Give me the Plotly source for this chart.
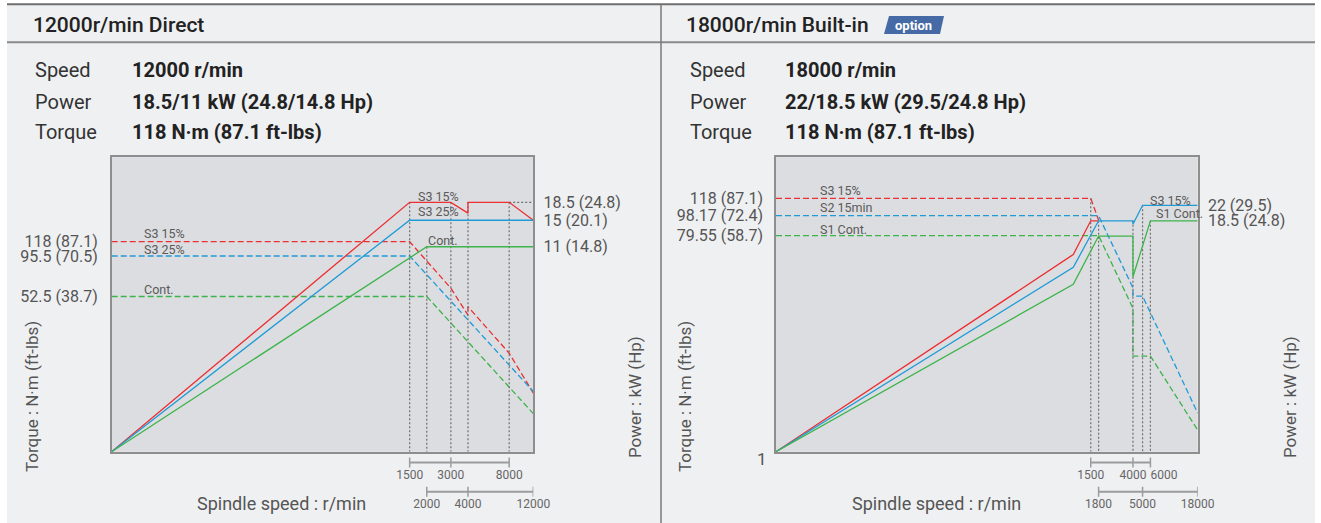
import math
import plotly.graph_objects as go

W, H = 1321, 523          # browser window
OX, OY = 0, 0             # page margin is removed by the post script
FW, FH = W - OX, H - OY
FONT = "Roboto"

# ------------------------------------------------------------------ data
# 12000 r/min Direct  (speed r/min, power kW, torque N·m)
L_S315_SPEED = [10, 1500, 3000, 4000, 4000, 8000, 12000]
L_S315_POWER = [1, 18.5, 18.5, 16.3, 18.5, 18.5, 15]
L_S325_SPEED = [10, 1500, 12000]
L_S325_POWER = [1, 15, 15]
L_CONT_SPEED = [10, 2000, 12000]
L_CONT_POWER = [1, 11, 11]
L_S315_TQ_SPEED = [10, 1500, 3000, 4000, 4000, 8000, 12000]
L_S315_TORQUE = [118, 118, 59.3, 39.9, 45.2, 22.7, 12.6]
L_S325_TQ_SPEED = [10, 1500, 12000]
L_S325_TORQUE = [95.5, 95.5, 12.9]
L_CONT_TQ_SPEED = [10, 2000, 12000]
L_CONT_TORQUE = [52.5, 52.5, 9.3]
L_GUIDE_SPEED = [1500, 2000, 3000, 4000, 8000]
L_GUIDE_POWER = [18.5, 11, 18.5, 18.5, 18.5]
L_HGUIDE_SPEED = [8000, 12000]
L_HGUIDE_POWER = [18.5, 18.5]
L_TORQUE_TICKS = [118, 95.5, 52.5]
L_TORQUE_LABELS = ["118 (87.1)", "95.5 (70.5)", "52.5 (38.7)"]
L_POWER_TICKS = [18.5, 15, 11]
L_POWER_LABELS = ["18.5 (24.8)", "15 (20.1)", "11 (14.8)"]
L_SPEED_ROW1 = [1500, 3000, 8000]
L_SPEED_ROW2 = [2000, 4000, 12000]

# 18000 r/min Built-in
R_S315_SPEED = [1, 1000, 1500, 1800]
R_S315_POWER = [1.4, 12.7, 18.5, 18.5]
R_S215_SPEED = [1, 1000, 1800, 4000, 4000, 5000, 18000]
R_S215_POWER = [1.4, 11.0, 18.5, 18.5, 17.8, 22, 22]
R_S1_SPEED = [1, 1000, 1800, 4000, 4000, 6000, 18000]
R_S1_POWER = [1.4, 9.1, 15.6, 15.6, 9.9, 18.5, 18.5]
R_S315_TQ_SPEED = [1, 1500, 1800]
R_S315_TORQUE = [118, 118, 93.8]
R_S215_TQ_SPEED = [1, 1800, 4000, 4000, 5000, 18000]
R_S215_TORQUE = [98.17, 98.17, 45.8, 42.0, 42.0, 12.2]
R_S1_TQ_SPEED = [1, 1800, 4000, 4000, 6000, 18000]
R_S1_TORQUE = [79.55, 79.55, 36.9, 22.3, 22.3, 10.2]
R_GUIDE_SPEED = [1800, 4000, 5000, 6000]
R_GUIDE_POWER = [18.5, 18.5, 22, 18.5]
R_TQ_GUIDE_SPEED = [1500]
R_TQ_GUIDE_TORQUE = [118]
R_TORQUE_TICKS = [118, 98.17, 79.55]
R_TORQUE_LABELS = ["118 (87.1)", "98.17 (72.4)", "79.55 (58.7)"]
R_POWER_TICKS = [22, 18.5]
R_POWER_LABELS = ["22 (29.5)", "18.5 (24.8)"]
R_SPEED_ROW1 = [1500, 4000, 6000]
R_SPEED_ROW2 = [1800, 5000, 18000]

# ------------------------------------------------------------------ style / layout constants
RED, BLUE, GREEN = "#ec2f33", "#1f9bd7", "#3cb44b"
TXT = "#555555"
GUIDE = "#6f6f6f"
BORDER = "#8e8e8e"
PLOT_BG = "#dcdde0"
PANEL_BG = "#eff0f2"
DASH = "6px,3px"
DOT = "2px,2px"

def px(x):
    return (x - OX) / FW

def py(y):
    return 1 - (y - OY) / FH

LEFT_X = [px(111.7), px(533.3)]
RIGHT_X = [px(776), px(1197.7)]
PLOT_Y = [py(451.7), py(157.3)]
BRACKET_Y = [py(515), py(455)]

L_XR = [1, math.log10(12000)]
L_TR = [0.724, 2.6136]
L_PR = [0, 1.496]
R_XR = [0, math.log10(18000)]
R_TR = [0.9095, 2.2599]
R_PR = [math.log10(1.4), math.log10(1.4) + 1.4292]
BR_R = [-0.8, 1.26]
TICK_HALF = 0.17
LABEL_OFF = 0.47

fig = go.Figure()

def line(xs, ys, xa, ya, color, dash=None, width=1.3):
    fig.add_trace(go.Scatter(x=xs, y=ys, xaxis=xa, yaxis=ya, mode="lines",
                             line=dict(color=color, width=width, dash=dash),
                             hoverinfo="skip", showlegend=False))

def guides(speeds, vals, bottom, xa, ya):
    xs, ys = [], []
    for s, v in zip(speeds, vals):
        xs += [s, s, None]
        ys += [v, bottom, None]
    line(xs, ys, xa, ya, GUIDE, DOT, 1.2)

def bracket(row1, row2, xa, ya, pos1, pos2):
    for row, vals, pos in ((1, row1, pos1), (0, row2, pos2)):
        line([vals[0], vals[-1]], [row, row], xa, ya, "#9c9c9c", None, 2)
        xs, ys = [], []
        for v in vals:
            xs += [v, v, None]
            ys += [row - TICK_HALF, row + TICK_HALF, None]
        line(xs, ys, xa, ya, "#9c9c9c", None, 1.5)
        fig.add_trace(go.Scatter(x=vals, y=[row - LABEL_OFF] * len(vals), xaxis=xa, yaxis=ya,
                                 mode="text", text=[str(v) for v in vals],
                                 textposition=pos, cliponaxis=False,
                                 textfont=dict(family=FONT, size=12, color="#666666"),
                                 hoverinfo="skip", showlegend=False))

C3 = ["middle center"] * 3

# ---- left chart
guides(L_GUIDE_SPEED, L_GUIDE_POWER, 10 ** L_PR[0], "x", "y2")
line(L_HGUIDE_SPEED, L_HGUIDE_POWER, "x", "y2", GUIDE, DOT, 1.2)
line(L_S315_TQ_SPEED, L_S315_TORQUE, "x", "y", RED, DASH)
line(L_S325_TQ_SPEED, L_S325_TORQUE, "x", "y", BLUE, DASH)
line(L_CONT_TQ_SPEED, L_CONT_TORQUE, "x", "y", GREEN, DASH)
line(L_S315_SPEED, L_S315_POWER, "x", "y2", RED)
line(L_S325_SPEED, L_S325_POWER, "x", "y2", BLUE)
line(L_CONT_SPEED, L_CONT_POWER, "x", "y2", GREEN)
bracket(L_SPEED_ROW1, L_SPEED_ROW2, "x3", "y3", C3, C3)

# ---- right chart
guides(R_TQ_GUIDE_SPEED, R_TQ_GUIDE_TORQUE, 10 ** R_TR[0], "x4", "y4")
guides(R_GUIDE_SPEED, R_GUIDE_POWER, 10 ** R_PR[0], "x4", "y5")
line(R_S315_TQ_SPEED, R_S315_TORQUE, "x4", "y4", RED, DASH)
line(R_S215_TQ_SPEED, R_S215_TORQUE, "x4", "y4", BLUE, DASH)
line(R_S1_TQ_SPEED, R_S1_TORQUE, "x4", "y4", GREEN, DASH)
line(R_S315_SPEED, R_S315_POWER, "x4", "y5", RED)
line(R_S215_SPEED, R_S215_POWER, "x4", "y5", BLUE)
line(R_S1_SPEED, R_S1_POWER, "x4", "y5", GREEN)
bracket(R_SPEED_ROW1, R_SPEED_ROW2, "x6", "y6",
        ["middle center", "middle center", "middle right"], C3)

tickfont = dict(family=FONT, size=16, color=TXT)

def xax(domain, rng, anchor, matches=None, visible=True):
    d = dict(domain=domain, type="log", range=rng, anchor=anchor, showgrid=False,
             zeroline=False, showticklabels=False, ticks="", fixedrange=True)
    if visible:
        d.update(showline=True, mirror=True, linecolor=BORDER, linewidth=1.5)
    else:
        d.update(visible=False)
    if matches:
        d["matches"] = matches
    return d

def yax(rng, anchor, vals, texts, ticklen, side="left", overlaying=None):
    d = dict(domain=PLOT_Y, type="log", range=rng, anchor=anchor, side=side,
             tickvals=vals, ticktext=texts, ticks="outside", ticklen=ticklen,
             tickcolor="rgba(0,0,0,0)", tickfont=tickfont, showgrid=False,
             zeroline=False, fixedrange=True)
    if overlaying:
        d.update(overlaying=overlaying, showline=False)
    else:
        d.update(showline=True, mirror=True, linecolor=BORDER, linewidth=1.5)
    return d

bracket_y = dict(domain=BRACKET_Y, range=BR_R, visible=False, fixedrange=True)

shapes = [
    dict(type="rect", xref="paper", yref="paper", x0=px(7), x1=px(1315), y0=0, y1=py(4.3),
         fillcolor=PANEL_BG, line=dict(width=0), layer="below"),
    dict(type="rect", xref="x domain", yref="y domain", x0=0, x1=1, y0=0, y1=1,
         fillcolor=PLOT_BG, line=dict(width=0), layer="below"),
    dict(type="rect", xref="x4 domain", yref="y4 domain", x0=0, x1=1, y0=0, y1=1,
         fillcolor=PLOT_BG, line=dict(width=0), layer="below"),
    dict(type="line", xref="paper", yref="paper", x0=px(7), x1=px(1315), y0=py(4.3), y1=py(4.3),
         line=dict(color="#6e6e6e", width=2)),
    dict(type="line", xref="paper", yref="paper", x0=px(7), x1=px(1315), y0=py(42.3), y1=py(42.3),
         line=dict(color="#8a8a8a", width=2)),
    dict(type="line", xref="paper", yref="paper", x0=px(661), x1=px(661), y0=0, y1=py(4.3),
         line=dict(color="#7a7a7a", width=1.5)),
    dict(type="path", xref="paper", yref="paper",
         path=f"M {px(884)} {py(34)} L {px(889)} {py(16)} L {px(944)} {py(16)} L {px(940)} {py(34)} Z",
         fillcolor="#456aa6", line=dict(width=0)),
]

ann = []

def text(x, y, s, size, color="#222222", xanchor="left", weight=None, angle=0):
    f = dict(family=FONT, size=size, color=color)
    if weight:
        f["weight"] = weight
    ann.append(dict(x=px(x), y=py(y), xref="paper", yref="paper", text=s, showarrow=False,
                    xanchor=xanchor, yanchor="middle", font=f, textangle=angle))

# headers
text(30.5, 25, "12000r/min Direct", 21, weight=500)
text(684, 25, "18000r/min Built-in", 21, weight=500)
text(914, 25, "option", 13, color="white", xanchor="center", weight="bold")
for x0, x1, vals in ((33, 130, ["12000 r/min", "18.5/11 kW (24.8/14.8 Hp)", "118 N·m (87.1 ft-lbs)"]),
                     (688, 783, ["18000 r/min", "22/18.5 kW (29.5/24.8 Hp)", "118 N·m (87.1 ft-lbs)"])):
    for y, lab, v in zip((70, 101.7, 131.7), ("Speed", "Power", "Torque"), vals):
        text(x0, y, lab, 20, color="#333333")
        text(x1, y, v, 20, weight="bold")

# axis titles
for xt, xp, xs in ((32, 635, 281), (685, 1290, 936)):
    text(xt, 397, "Torque : N·m (ft-lbs)", 17, color=TXT, xanchor="center", angle=-90)
    text(xp, 397, "Power : kW (Hp)", 17, color=TXT, xanchor="center", angle=-90)
    text(xs, 503, "Spindle speed : r/min", 18, color=TXT, xanchor="center")
text(761.7, 459.3, "1", 17, color=TXT, xanchor="center")

# curve labels
for x, y, s in ((141.7, 233, "S3 15%"), (141.7, 249, "S3 25%"), (141.7, 289, "Cont."),
                (416, 196.7, "S3 15%"), (416, 212, "S3 25%"), (426, 240.7, "Cont."),
                (817.7, 190.7, "S3 15%"), (817.7, 207.7, "S2 15min"), (817.7, 229, "S1 Cont."),
                (1147.7, 200.7, "S3 15%"), (1154, 213.8, "S1 Cont.")):
    text(x, y, s, 12.5, color="#5a5a5a")

fig.update_layout(
    width=FW, height=FH, margin=dict(l=0, r=0, t=0, b=0),
    paper_bgcolor="white", plot_bgcolor="rgba(0,0,0,0)",
    font=dict(family=FONT, color=TXT), showlegend=False,
    xaxis=xax(LEFT_X, L_XR, "y"),
    yaxis=yax(L_TR, "x", L_TORQUE_TICKS, L_TORQUE_LABELS, 9),
    yaxis2=yax(L_PR, "x", L_POWER_TICKS, L_POWER_LABELS, 6, side="right", overlaying="y"),
    xaxis3=xax(LEFT_X, L_XR, "y3", matches="x", visible=False),
    yaxis3=dict(bracket_y, anchor="x3"),
    xaxis4=xax(RIGHT_X, R_XR, "y4"),
    yaxis4=yax(R_TR, "x4", R_TORQUE_TICKS, R_TORQUE_LABELS, 8),
    yaxis5=yax(R_PR, "x4", R_POWER_TICKS, R_POWER_LABELS, 6, side="right", overlaying="y4"),
    xaxis6=xax(RIGHT_X, R_XR, "y6", matches="x4", visible=False),
    yaxis6=dict(bracket_y, anchor="x6"),
    shapes=shapes, annotations=ann,
)

fig.write_html("out.html", config={"displayModeBar": False},
               post_script="document.body.style.margin='0';document.body.style.overflow='hidden';")
